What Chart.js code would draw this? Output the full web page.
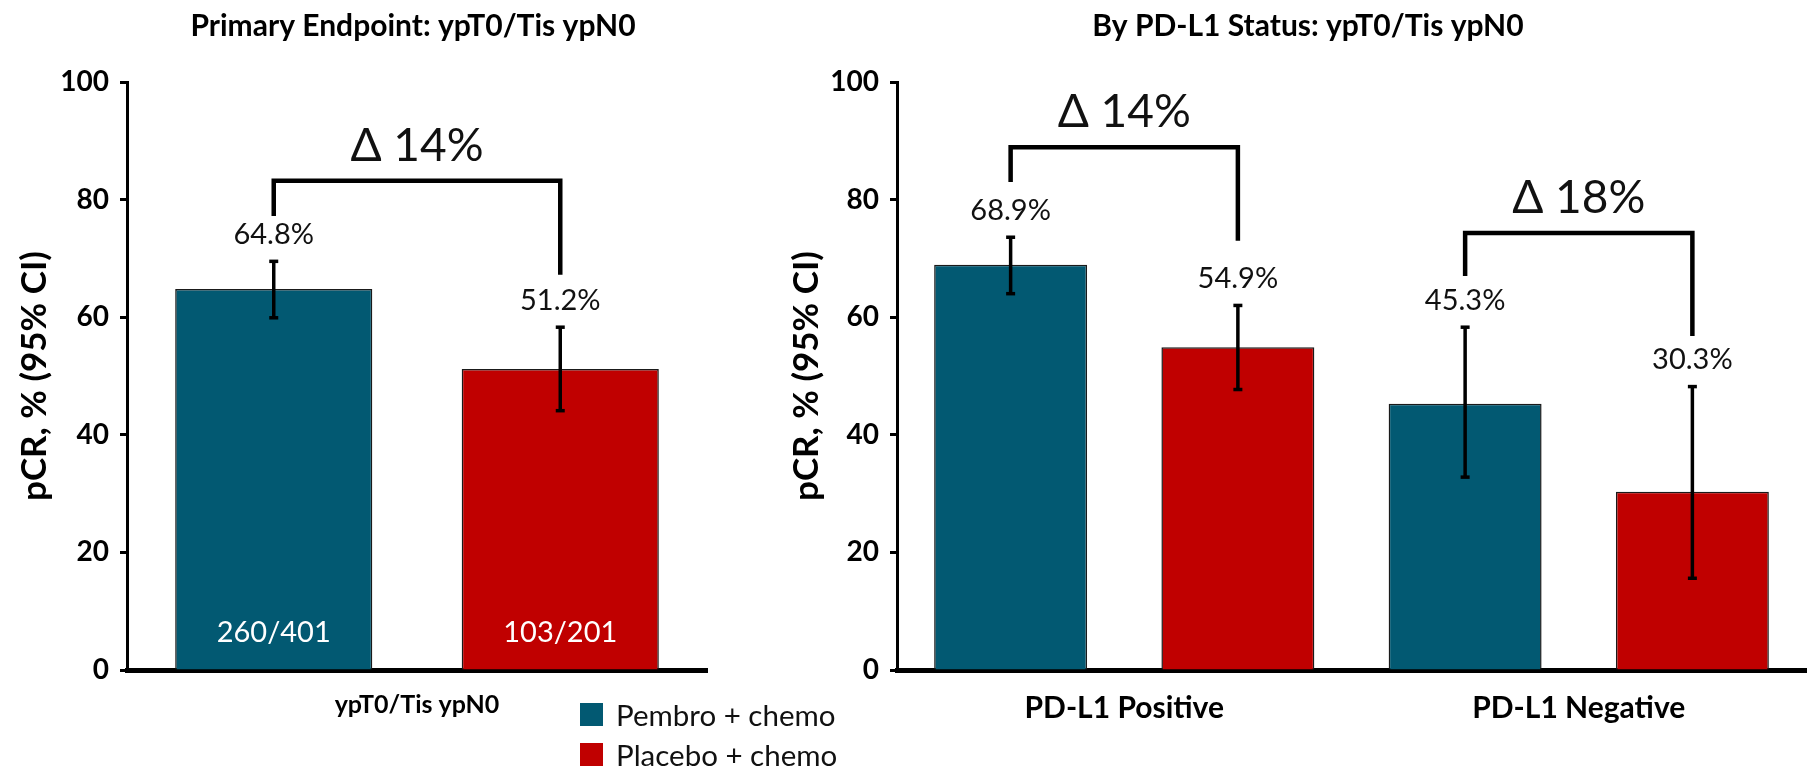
<!DOCTYPE html>
<html>
<head>
<meta charset="utf-8">
<title>pCR: ypT0/Tis ypN0</title>
<script src="https://cdn.jsdelivr.net/npm/chart.js@4.4.1/dist/chart.umd.min.js"></script>
<style>
  html, body { margin: 0; padding: 0; background: #fff; overflow: hidden; }
  body { width: 1816px; height: 769px; position: relative; }
  canvas { position: absolute; top: 0; }
  #primary { left: 0; }
  #pdl1 { left: 772px; }
  #legend { position: absolute; left: 580px; top: 703px; font-family: Lato, sans-serif; font-size: 29.5px; color: #111; }
  #legend .row { display: flex; align-items: center; height: 23px; margin-bottom: 17px; white-space: nowrap; }
  #legend .sw { width: 23px; height: 23px; margin-right: 13px; }
</style>
</head>
<body>
<canvas id="primary" width="764" height="769"></canvas>
<canvas id="pdl1" width="1072" height="769"></canvas>
<div id="legend"></div>
<script>
// ---- data ----
const seriesNames = ['Pembro + chemo', 'Placebo + chemo'];
const seriesColors = ['#025972', '#C00000'];
const yTicks = [0, 20, 40, 60, 80, 100];

// Primary endpoint (ITT)
const primaryCategories = ['ypT0/Tis ypN0'];
const primaryPembro = [64.8];
const primaryPembroLow = [59.9];
const primaryPembroHigh = [69.5];
const primaryPlacebo = [51.2];
const primaryPlaceboLow = [44.1];
const primaryPlaceboHigh = [58.3];
const primaryPembroCounts = ['260/401'];
const primaryPlaceboCounts = ['103/201'];
const primaryDelta = ['\u0394 14%'];
const primaryBracketTop = [83.2];
const primaryBracketLeftEnd = [77.2];
const primaryBracketRightEnd = [67.2];

// By PD-L1 status
const pdl1Categories = ['PD-L1 Positive', 'PD-L1 Negative'];
const pdl1Pembro = [68.9, 45.3];
const pdl1PembroLow = [64.0, 32.8];
const pdl1PembroHigh = [73.6, 58.3];
const pdl1Placebo = [54.9, 30.3];
const pdl1PlaceboLow = [47.7, 15.6];
const pdl1PlaceboHigh = [62.0, 48.2];
const pdl1Delta = ['\u0394 14%', '\u0394 18%'];
const pdl1BracketTop = [88.9, 74.3];
const pdl1BracketLeftEnd = [83.0, 67.0];
const pdl1BracketRightEnd = [73.0, 56.8];

// ---- drawing helpers ----
const FONT = 'Lato, "Open Sans", sans-serif';

// Panel heading, centred on a given x of the canvas
const panelTitle = {
  id: 'panelTitle',
  afterDraw(chart, args, opts) {
    const ctx = chart.ctx;
    ctx.save();
    ctx.font = 'bold 30px ' + FONT;
    ctx.fillStyle = '#000';
    ctx.textAlign = 'center';
    ctx.textBaseline = 'middle';
    ctx.fillText(opts.text, opts.x, 26);
    ctx.restore();
  }
};

// Error bars, value labels, in-bar counts and delta brackets
const barExtras = {
  id: 'barExtras',
  afterDatasetsDraw(chart, args, opts) {
    const ctx = chart.ctx;
    const y = chart.scales.y;
    ctx.save();
    chart.data.datasets.forEach((ds, di) => {
      const meta = chart.getDatasetMeta(di);
      meta.data.forEach((bar, i) => {
        const lo = y.getPixelForValue(ds.ciLow[i]);
        const hi = y.getPixelForValue(ds.ciHigh[i]);
        ctx.strokeStyle = '#000';
        ctx.lineCap = 'butt';
        ctx.lineWidth = 3.5;
        ctx.beginPath();
        ctx.moveTo(bar.x, lo);
        ctx.lineTo(bar.x, hi);
        ctx.stroke();
        [lo, hi].forEach(py => {
          ctx.beginPath();
          ctx.moveTo(bar.x - 4.5, py);
          ctx.lineTo(bar.x + 4.5, py);
          ctx.stroke();
        });
        ctx.font = '29px ' + FONT;
        ctx.textAlign = 'center';
        ctx.textBaseline = 'middle';
        ctx.fillStyle = '#111';
        ctx.fillText(ds.data[i].toFixed(1) + '%', bar.x, hi - 27);
        if (ds.counts) {
          ctx.font = '29px ' + FONT;
          ctx.fillStyle = '#fff';
          ctx.fillText(ds.counts[i], bar.x, y.getPixelForValue(0) - 37);
        }
      });
    });
    const m0 = chart.getDatasetMeta(0).data;
    const m1 = chart.getDatasetMeta(1).data;
    opts.labels.forEach((text, i) => {
      const lx = m0[i].x, rx = m1[i].x;
      const top = y.getPixelForValue(opts.tops[i]);
      ctx.strokeStyle = '#000';
      ctx.lineWidth = 4.5;
      ctx.lineJoin = 'miter';
      ctx.beginPath();
      ctx.moveTo(lx, y.getPixelForValue(opts.leftEnds[i]));
      ctx.lineTo(lx, top);
      ctx.lineTo(rx, top);
      ctx.lineTo(rx, y.getPixelForValue(opts.rightEnds[i]));
      ctx.stroke();
      ctx.font = '46px ' + FONT;
      ctx.fillStyle = '#111';
      ctx.textAlign = 'center';
      ctx.textBaseline = 'middle';
      ctx.fillText(text, (lx + rx) / 2, top - 35);
    });
    ctx.restore();
  }
};

function makeChart(canvasId, cfg) {
  const datasets = [
    { label: seriesNames[0], data: cfg.pembro, ciLow: cfg.pembroLow, ciHigh: cfg.pembroHigh, counts: cfg.pembroCounts,
      backgroundColor: seriesColors[0] },
    { label: seriesNames[1], data: cfg.placebo, ciLow: cfg.placeboLow, ciHigh: cfg.placeboHigh, counts: cfg.placeboCounts,
      backgroundColor: seriesColors[1] }
  ].map(d => Object.assign(d, {
    borderColor: '#1a1a1a', borderWidth: 1.5, borderSkipped: 'bottom',
    categoryPercentage: cfg.categoryPercentage, barPercentage: cfg.barPercentage
  }));

  return new Chart(document.getElementById(canvasId), {
    type: 'bar',
    data: { labels: cfg.categories, datasets },
    plugins: [barExtras, panelTitle],
    options: {
      responsive: false,
      animation: false,
      devicePixelRatio: 1,
      layout: { padding: { left: 0, right: cfg.padRight, top: 82, bottom: 0 } },
      plugins: {
        legend: { display: false },
        tooltip: { enabled: false },
        title: { display: false },
        panelTitle: { text: cfg.title, x: cfg.titleX },
        barExtras: {
          labels: cfg.deltas, tops: cfg.bracketTop,
          leftEnds: cfg.bracketLeftEnd, rightEnds: cfg.bracketRightEnd
        }
      },
      scales: {
        x: {
          grid: { display: false, drawTicks: false },
          border: { display: true, color: '#000', width: 5 },
          ticks: { color: '#000', padding: 20, font: { family: FONT, size: cfg.catFont, weight: 'bold' } },
          afterFit(scale) { scale.height = 99; }
        },
        y: {
          min: 0, max: 100,
          afterBuildTicks(scale) { scale.ticks = yTicks.map(v => ({ value: v })); },
          grid: { display: true, drawOnChartArea: false, drawTicks: true, tickLength: 7, tickWidth: 3, tickColor: '#000' },
          border: { display: true, color: '#000', width: 3 },
          ticks: { color: '#000', padding: 11, font: { family: FONT, size: 28, weight: 'bold' } },
          title: {
            display: true, text: 'pCR, % (95% CI)', color: '#000',
            font: { family: FONT, size: 35, weight: 'bold', lineHeight: 1.2 },
            padding: { top: 14, bottom: 0 }
          },
          afterFit(scale) { scale.width = cfg.axisWidth; }
        }
      }
    }
  });
}

function buildLegend() {
  const box = document.getElementById('legend');
  seriesNames.forEach((name, i) => {
    const row = document.createElement('div');
    row.className = 'row';
    const sw = document.createElement('span');
    sw.className = 'sw';
    sw.style.background = seriesColors[i];
    const txt = document.createElement('span');
    txt.textContent = name;
    row.appendChild(sw);
    row.appendChild(txt);
    box.appendChild(row);
  });
}

function draw() {
  makeChart('primary', {
    title: 'Primary Endpoint: ypT0/Tis ypN0', titleX: 413,
    categories: primaryCategories,
    pembro: primaryPembro, pembroLow: primaryPembroLow, pembroHigh: primaryPembroHigh, pembroCounts: primaryPembroCounts,
    placebo: primaryPlacebo, placeboLow: primaryPlaceboLow, placeboHigh: primaryPlaceboHigh, placeboCounts: primaryPlaceboCounts,
    deltas: primaryDelta, bracketTop: primaryBracketTop,
    bracketLeftEnd: primaryBracketLeftEnd, bracketRightEnd: primaryBracketRightEnd,
    categoryPercentage: 0.988, barPercentage: 0.688,
    catFont: 25, axisWidth: 127, padRight: 57
  });
  makeChart('pdl1', {
    title: 'By PD-L1 Status: ypT0/Tis ypN0', titleX: 536,
    categories: pdl1Categories,
    pembro: pdl1Pembro, pembroLow: pdl1PembroLow, pembroHigh: pdl1PembroHigh,
    placebo: pdl1Placebo, placeboLow: pdl1PlaceboLow, placeboHigh: pdl1PlaceboHigh,
    deltas: pdl1Delta, bracketTop: pdl1BracketTop,
    bracketLeftEnd: pdl1BracketLeftEnd, bracketRightEnd: pdl1BracketRightEnd,
    categoryPercentage: 1, barPercentage: 0.673,
    catFont: 30, axisWidth: 125, padRight: 38
  });
  buildLegend();
}

const fontLoads = ['27px Lato', 'bold 27px Lato', '42px Lato'].map(f => document.fonts.load(f));
Promise.all(fontLoads).then(draw, draw);
</script>
</body>
</html>
